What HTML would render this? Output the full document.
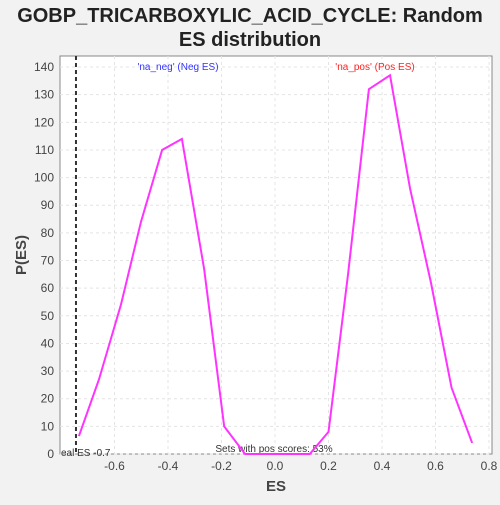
<!DOCTYPE html>
<html><head><style>
body{margin:0;width:500px;height:500px;background:#f2f2f2;font-family:"Liberation Sans","DejaVu Sans",sans-serif;overflow:hidden}
</style></head><body>
<svg width="500" height="500">
<text x="250" y="22" text-anchor="middle" font-size="20" font-weight="bold" fill="#222">GOBP_TRICARBOXYLIC_ACID_CYCLE: Random</text>
<text x="250" y="46" text-anchor="middle" font-size="20" font-weight="bold" fill="#222">ES distribution</text>
<rect x="60" y="56" width="432" height="398" fill="#fff" stroke="#888"/>
<g id="grid"></g><g id="ticks"></g>
<text x="276" y="491" text-anchor="middle" font-size="15" font-weight="bold" fill="#444">ES</text>
<text transform="translate(26,255) rotate(-90)" text-anchor="middle" font-size="15" font-weight="bold" fill="#444">P(ES)</text>
<text x="178" y="70" text-anchor="middle" font-size="10" fill="#3333ff">'na_neg' (Neg ES)</text>
<text x="375" y="70" text-anchor="middle" font-size="10" fill="#ff2222">'na_pos' (Pos ES)</text>
<text x="274" y="452" text-anchor="middle" font-size="10" fill="#333">Sets with pos scores: 53%</text>
<text x="61" y="456" font-size="10" fill="#333">eal ES -0.7</text>
<g id="marks"></g>
</svg>
<script>
const esValues=[-0.733,-0.658,-0.576,-0.501,-0.422,-0.348,-0.265,-0.19,-0.112,-0.037,0.041,0.13,0.2,0.273,0.351,0.43,0.505,0.583,0.66,0.737];
const pValues=[6.5,27,54,84,110,114,67,10,0,0,0,0,8,65,132,137,96,62,24,4];
const xTicks=[-0.6,-0.4,-0.2,0.0,0.2,0.4,0.6,0.8];
const yTicks=[0,10,20,30,40,50,60,70,80,90,100,110,120,130,140];
const realES=[-0.744];
const X=v=>275+v*267.5, Y=v=>454-v*2.764;
const ns="http://www.w3.org/2000/svg";
function mk(t,a,p){const e=document.createElementNS(ns,t);for(const k in a)e.setAttribute(k,a[k]);document.getElementById(p).appendChild(e);return e;}
xTicks.forEach(v=>{
 const g=mk('line',{x1:X(v),x2:X(v),y1:56,y2:454,stroke:'#e4e4e4','stroke-dasharray':'3,3'},'grid');
 
 
 const t=mk('text',{x:X(v),y:470,'text-anchor':'middle','font-size':12,fill:'#444'},'ticks');t.textContent=v.toFixed(1);
 
 
});
yTicks.forEach(v=>{
 const g=mk('line',{x1:60,x2:492,y1:Y(v),y2:Y(v),stroke:'#e4e4e4','stroke-dasharray':'3,3'},'grid');
 
 
 const t=mk('text',{x:54,y:Y(v)+4,'text-anchor':'end','font-size':12,fill:'#444'},'ticks');t.textContent=v;
 
 
});
realES.forEach(v=>{
 const l=mk('line',{x1:X(v),x2:X(v),y1:56,y2:454,stroke:'#333','stroke-width':2,'stroke-dasharray':'4,3'},'marks');
 
 
});
const pl=mk('polyline',{points:esValues.map((v,i)=>X(v)+','+Y(pValues[i])).join(' '),fill:'none',stroke:'#ff33ff','stroke-width':2},'marks');


</script>
</body></html>
